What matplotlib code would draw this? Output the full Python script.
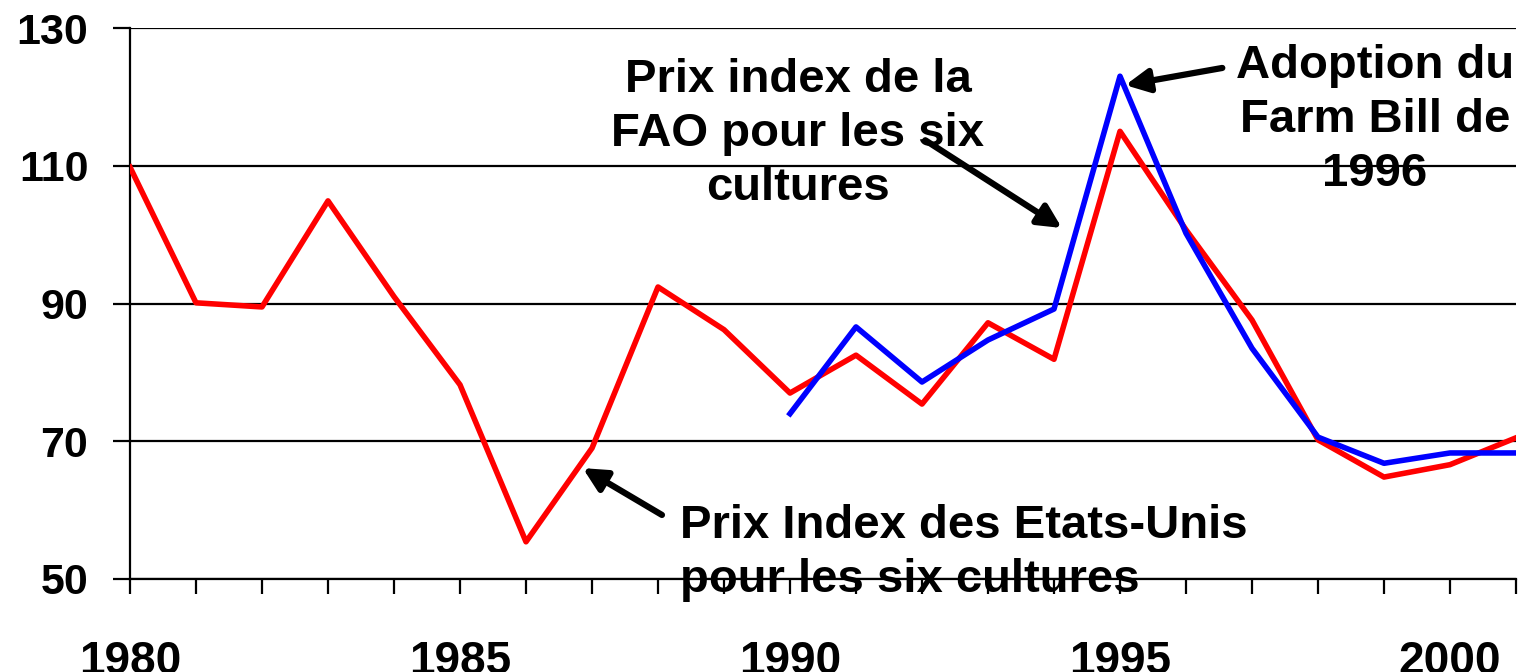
import matplotlib.pyplot as plt
from matplotlib.ticker import MultipleLocator

plt.rcParams['font.family'] = ['Liberation Sans', 'DejaVu Sans']
plt.rcParams['font.weight'] = 'bold'

years_us = list(range(1980, 2002))
us_index = [109.8, 90.1, 89.5, 104.9, 91.0, 78.2, 55.4, 69.0, 92.4, 86.2, 77.0,
            82.5, 75.4, 87.2, 81.9, 115.0, 100.7, 87.6, 70.2, 64.8, 66.6, 70.5]

years_fao = list(range(1990, 2002))
fao_index = [74.0, 86.6, 78.6, 84.7, 89.2, 123.0, 100.2, 83.5, 70.6, 66.8, 68.3, 68.3]

x_labels = [1980, 1985, 1990, 1995, 2000]
y_ticks = [50, 70, 90, 110, 130]

fig = plt.figure(figsize=(15.23, 6.72), dpi=100)
ax = fig.add_axes([130 / 1523, 93 / 672, 1386 / 1523, 551 / 672])

ax.plot(years_us, us_index, color='#ff0000', lw=4, zorder=3)
ax.plot(years_fao, fao_index, color='#0000ff', lw=4, zorder=4)

ax.set_xlim(1980, 2001)
ax.set_ylim(50, 130)
ax.set_yticks(y_ticks)
ax.set_xticks(x_labels)
ax.xaxis.set_minor_locator(MultipleLocator(1))
ax.yaxis.grid(True, color='black', lw=1.6)
ax.set_axisbelow(True)

for s in ['top', 'right']:
    ax.spines[s].set_visible(False)
for s in ['left', 'bottom']:
    ax.spines[s].set_linewidth(1.6)

ax.tick_params(axis='y', direction='out', length=12, width=1.6, pad=18, labelsize=31)
ax.tick_params(axis='x', which='both', direction='out', length=11, width=1.6)
ax.tick_params(axis='x', which='major', pad=33, labelsize=33)

arrow = dict(arrowstyle='-|>,head_length=1.4,head_width=0.7', color='black', lw=4.5,
             shrinkA=0, shrinkB=0)

ax.annotate('', xy=(1994.12, 100.96), xytext=(1992.05, 113.7), arrowprops=arrow)
ax.text(1990.12, 114.6, 'Prix index de la\nFAO pour les six\ncultures', ha='center', va='center',
        fontsize=34, fontweight='bold', linespacing=1.3)

ax.annotate('', xy=(1995.08, 121.7), xytext=(1996.55, 124.2), arrowprops=arrow)
ax.text(1998.86, 116.6, 'Adoption du\nFarm Bill de\n1996', ha='center', va='center',
        fontsize=34, fontweight='bold', linespacing=1.3)

ax.annotate('', xy=(1986.86, 66.1), xytext=(1988.06, 59.3), arrowprops=arrow)
ax.text(1988.33, 53.8, 'Prix Index des Etats-Unis\npour les six cultures', ha='left', va='center',
        fontsize=34, fontweight='bold', linespacing=1.3)

fig.savefig('out.png', dpi=100)
